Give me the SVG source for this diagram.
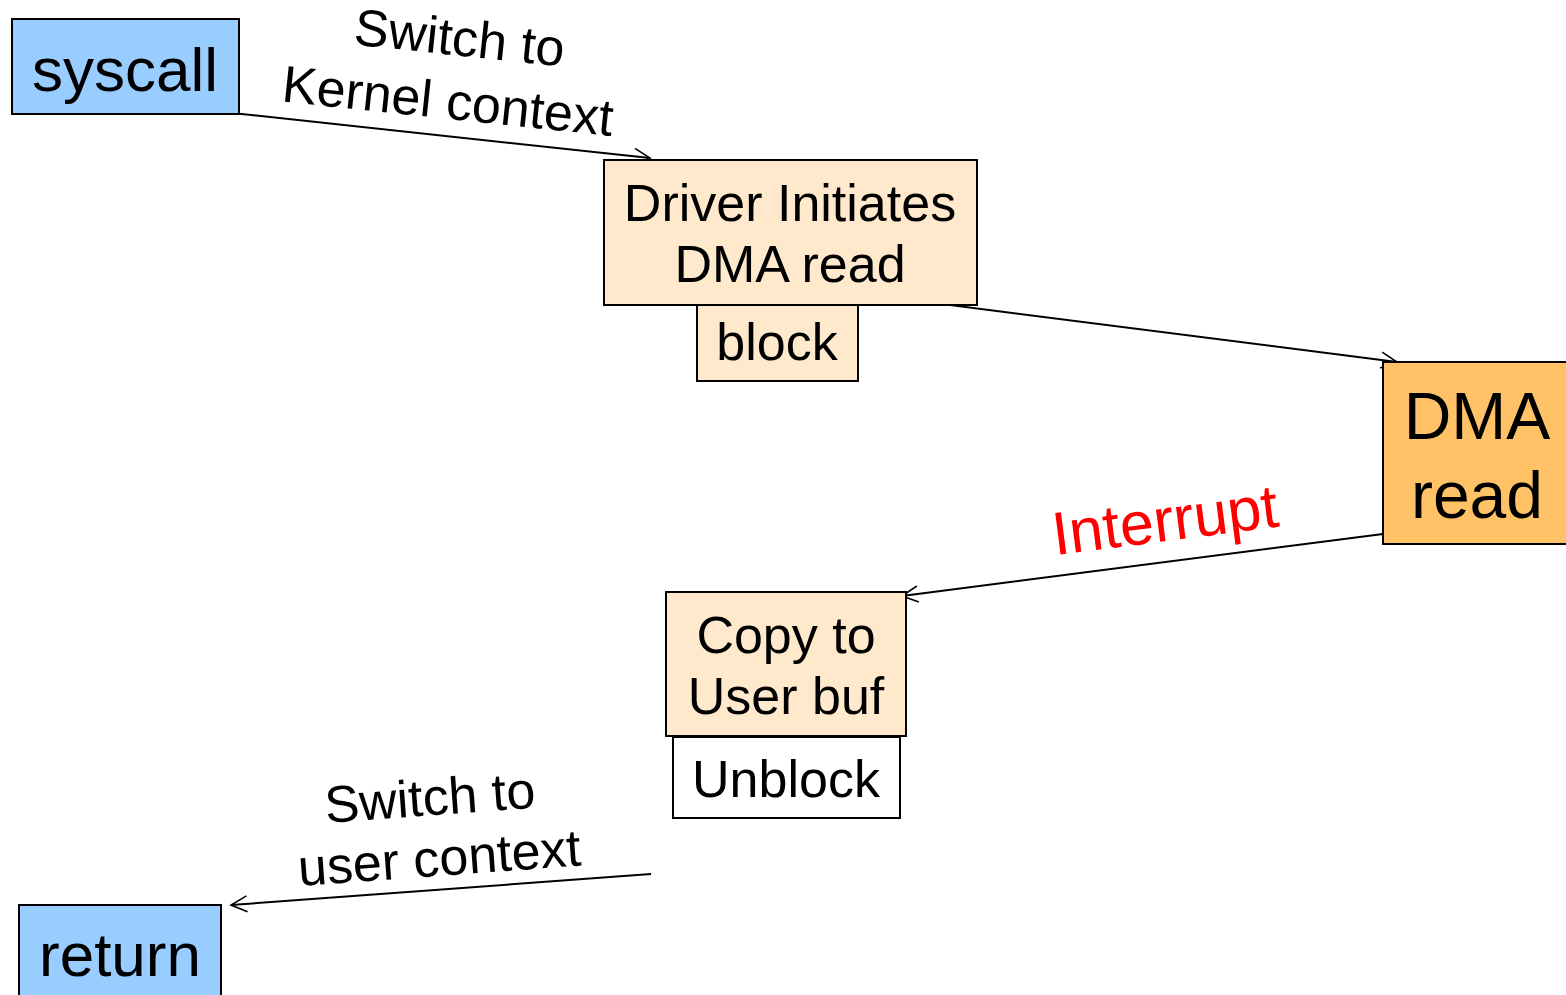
<svg xmlns="http://www.w3.org/2000/svg" width="1566" height="995" viewBox="0 0 1566 995">
  <style>
    .box { stroke: #000; stroke-width: 2; }
    .user { fill: #99CCFF; }
    .kern { fill: #FFE9CC; }
    .dev { fill: #FFC266; }
    .plain { fill: #FFFFFF; }
    text { font-family: "Liberation Sans", Arial, sans-serif; fill: #000; text-anchor: middle; }
    .lbl { font-size: 52px; }
    .node { font-size: 52px; }
    .big { font-size: 62px; }
    .edge { stroke: #000; stroke-width: 2; fill: none; marker-end: url(#open); }
  </style>
  <defs>
    <marker id="open" viewBox="0 0 20 20" refX="18" refY="10" markerWidth="20" markerHeight="20" markerUnits="userSpaceOnUse" orient="auto">
      <path d="M2,2 L18,10 L2,18" fill="none" stroke="#000" stroke-width="1.6"/>
    </marker>
  </defs>

  <!-- connectors and their labels -->
  <g id="connectors">
    <line class="edge" x1="232" y1="113" x2="650" y2="158"/>
    <line class="edge" x1="950" y1="305" x2="1397" y2="362"/>
    <line class="edge" x1="1383" y1="534" x2="902" y2="596"/>
    <line class="edge" x1="651" y1="874" x2="231" y2="905"/>
    <g transform="rotate(6 452 72)">
      <text x="456" y="55" class="lbl">Switch to</text>
      <text x="451" y="119" class="lbl">Kernel context</text>
    </g>
    <text x="1165" y="541" transform="rotate(-7.3 1165 520)" style="font-size:61px;fill:#FF0000">Interrupt</text>
    <g transform="rotate(-4.2 435 827)">
      <text x="432" y="815" class="lbl">Switch to</text>
      <text x="437" y="876" class="lbl">user context</text>
    </g>
  </g>

  <g id="syscall">
    <rect class="box user" x="12" y="19" width="227" height="95"/>
    <text x="125" y="91" class="big">syscall</text>
  </g>

  <g id="driver">
    <rect class="box kern" x="604" y="160" width="373" height="145"/>
    <text x="790" y="221" class="node">Driver Initiates</text>
    <text x="790" y="282" class="node">DMA read</text>
  </g>

  <g id="block">
    <rect class="box kern" x="697" y="305" width="161" height="76"/>
    <text x="777" y="360" class="node">block</text>
  </g>

  <g id="dma">
    <rect class="box dev" x="1383" y="362" width="190" height="182"/>
    <text x="1477" y="439" style="font-size:66px">DMA</text>
    <text x="1477" y="518" style="font-size:66px">read</text>
  </g>

  <g id="copy">
    <rect class="box kern" x="666" y="592" width="240" height="144"/>
    <text x="786" y="653" class="node">Copy to</text>
    <text x="786" y="714" class="node">User buf</text>
  </g>

  <g id="unblock">
    <rect class="box plain" x="673" y="737" width="227" height="81"/>
    <text x="786" y="797" class="node">Unblock</text>
  </g>

  <g id="return">
    <rect class="box user" x="19" y="905" width="202" height="100"/>
    <text x="120" y="976" class="big">return</text>
  </g>
</svg>
